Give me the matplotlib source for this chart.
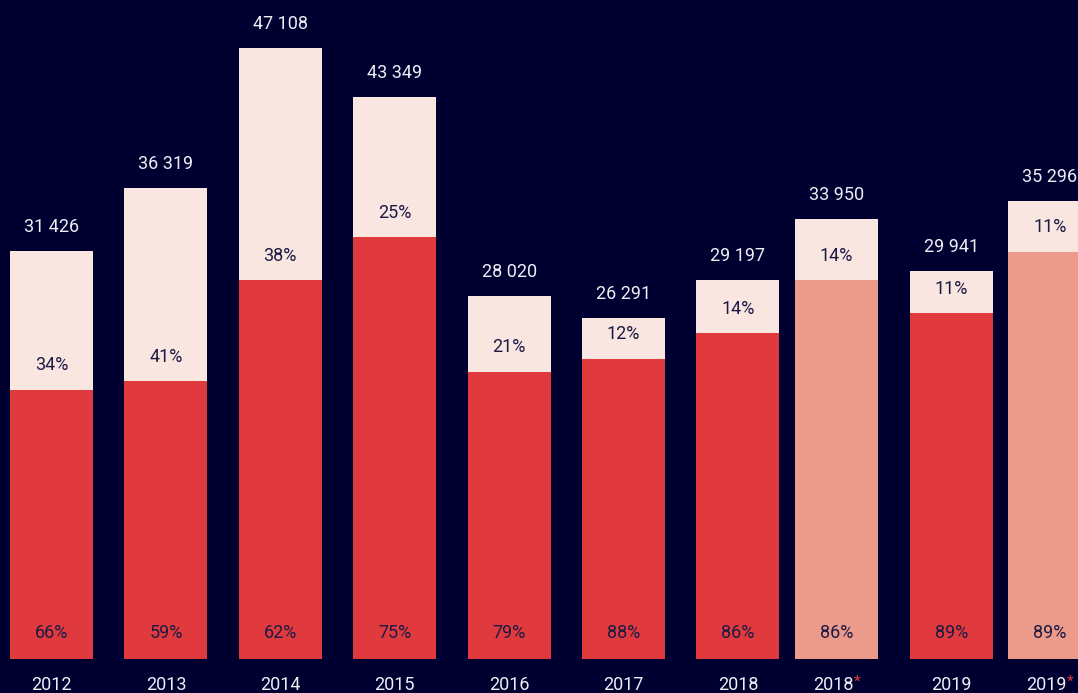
import matplotlib
matplotlib.use("Agg")
import matplotlib.pyplot as plt

# ---- data ----
years = ["2012", "2013", "2014", "2015", "2016", "2017", "2018", "2018", "2019", "2019"]
starred = [False, False, False, False, False, False, False, True, False, True]
totals = [31426, 36319, 47108, 43349, 28020, 26291, 29197, 33950, 29941, 35296]
share_bottom = [66, 59, 62, 75, 79, 88, 86, 86, 89, 89]
share_top = [34, 41, 38, 25, 21, 12, 14, 14, 11, 11]
total_labels = ["31 426", "36 319", "47 108", "43 349", "28 020", "26 291",
                "29 197", "33 950", "29 941", "35 296"]

# ---- style ----
BG = "#000030"
RED = "#e03a3f"
SALMON = "#ec9a8a"
PINK = "#fae6e0"
WHITE = "#eeeef4"
DARK = "#1b1b45"
FONT = ["Roboto", "DejaVu Sans"]
FS = 13

W, H = 1078, 693
fig = plt.figure(figsize=(W / 100, H / 100), dpi=100, facecolor=BG)
base_px = 659
ax = fig.add_axes([0, (H - base_px) / H, 1, base_px / H])
ax.set_facecolor(BG)
for s in ax.spines.values():
    s.set_visible(False)
ax.set_xticks([])
ax.set_yticks([])

# positions (pixel units on x axis)
pos = []
c = 51.5
for i, st in enumerate(starred):
    if i > 0:
        if st:
            c += 98.5
        elif starred[i - 1]:
            c += 114.8
        else:
            c += 114.4
    pos.append(c)

ax.set_xlim(0, W)
ymax = max(totals) * base_px / (base_px - 48)
ax.set_ylim(0, ymax)

bw = 83
pt = 72 / 100  # points per pixel

for x, tot, pb, ptp, st, yr, lab in zip(pos, totals, share_bottom, share_top,
                                        starred, years, total_labels):
    bottom_val = tot * pb / 100.0
    top_val = tot - bottom_val
    ax.bar(x, bottom_val, width=bw, color=SALMON if st else RED, linewidth=0)
    ax.bar(x, top_val, bottom=bottom_val, width=bw, color=PINK, linewidth=0)
    # total label
    ax.annotate(lab, (x, tot), xytext=(0, 24 * pt), textcoords="offset points",
                ha="center", va="center", color=WHITE, fontsize=FS, family=FONT,
                annotation_clip=False)
    # top share
    ax.annotate(f"{ptp}%", (x, bottom_val), xytext=(0, 24.5 * pt),
                textcoords="offset points", ha="center", va="center",
                color=DARK, fontsize=FS, family=FONT)
    # bottom share
    ax.annotate(f"{pb}%", (x, 0), xytext=(0, 25.5 * pt),
                textcoords="offset points", ha="center", va="center",
                color=DARK, fontsize=FS, family=FONT)
    # year label
    dx = -3.5 * pt if st else 0
    t = ax.annotate(yr, (x, 0), xytext=(dx, -26.5 * pt), textcoords="offset points",
                    ha="center", va="center", color=WHITE, fontsize=FS,
                    family=FONT, annotation_clip=False)
    if st:
        ax.annotate("*", xy=(1, 1), xycoords=t, xytext=(0.5, 1.5),
                    textcoords="offset points", ha="left", va="top",
                    color=RED, fontsize=11, family=FONT, annotation_clip=False)

fig.savefig("out.png", dpi=100, facecolor=BG)
